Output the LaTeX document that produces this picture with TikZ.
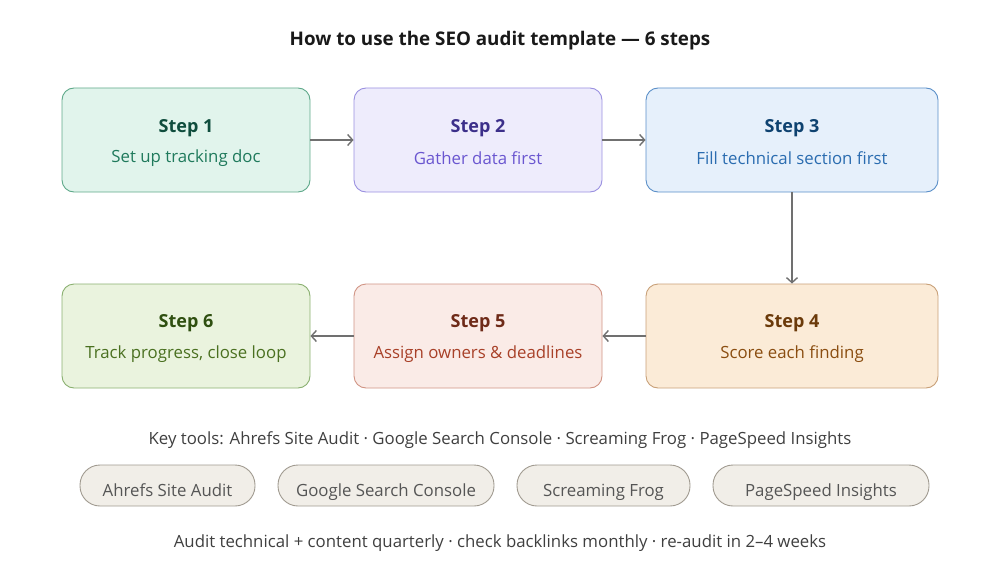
\documentclass[tikz,border=0pt]{standalone}
\usepackage{fontspec}
\setmainfont{Open Sans}
\usetikzlibrary{arrows.meta}
\definecolor{aFill}{HTML}{E1F4EC}\definecolor{aDraw}{HTML}{5FA98A}\definecolor{aTitle}{HTML}{0F4D3D}\definecolor{aSub}{HTML}{1F7A5C}
\definecolor{bFill}{HTML}{EEECFC}\definecolor{bDraw}{HTML}{9A90E0}\definecolor{bTitle}{HTML}{3C2F8A}\definecolor{bSub}{HTML}{6A56D0}
\definecolor{cFill}{HTML}{E6F0FB}\definecolor{cDraw}{HTML}{5A8FC8}\definecolor{cTitle}{HTML}{0E4270}\definecolor{cSub}{HTML}{2A6CB0}
\definecolor{dFill}{HTML}{FBEBD7}\definecolor{dDraw}{HTML}{C8A078}\definecolor{dTitle}{HTML}{6B3A0A}\definecolor{dSub}{HTML}{8A4D10}
\definecolor{eFill}{HTML}{FAEBE7}\definecolor{eDraw}{HTML}{D09484}\definecolor{eTitle}{HTML}{6E2A18}\definecolor{eSub}{HTML}{A84028}
\definecolor{fFill}{HTML}{EAF3DE}\definecolor{fDraw}{HTML}{8AB070}\definecolor{fTitle}{HTML}{2F4F10}\definecolor{fSub}{HTML}{4A7020}
\definecolor{arr}{HTML}{707070}
\definecolor{pillFill}{HTML}{F1EEE8}\definecolor{pillDraw}{HTML}{A09A90}\definecolor{pillText}{HTML}{555555}
\definecolor{noteText}{HTML}{3F3F3F}
\tikzset{
  stepbox/.style={draw, rounded corners=12pt, line width=0.9pt, minimum width=248pt, minimum height=104pt, inner sep=0pt},
  pill/.style={draw=pillDraw, fill=pillFill, rounded corners=20pt, line width=0.9pt, minimum height=41pt, inner sep=0pt},
  pilltext/.style={text=pillText, font=\fontsize{16.8}{20}\selectfont, anchor=base, inner sep=0pt},
  conn/.style={draw=arr, line width=1.7pt, -{Straight Barb[length=5pt,width=11pt,line width=1.4pt]}},
  ttl/.style={font=\fontsize{18}{21}\selectfont\bfseries},
  sub/.style={font=\fontsize{16.8}{20}\selectfont},
}
\begin{document}
\begin{tikzpicture}[x=1pt,y=-1pt]
\useasboundingbox (0,0) rectangle (1000,567);
\node[font=\fontsize{18.8}{22}\selectfont\bfseries, text=black!90] (title) at (500,41) {How to use the SEO audit template — 6 steps};
% boxes
\node[stepbox, draw=aDraw, fill=aFill] (s1) at (186,140) {};
\node[stepbox, draw=bDraw, fill=bFill] (s2) at (478,140) {};
\node[stepbox, draw=cDraw, fill=cFill, minimum width=292pt] (s3) at (792,140) {};
\node[stepbox, draw=dDraw, fill=dFill, minimum width=292pt] (s4) at (792,336) {};
\node[stepbox, draw=eDraw, fill=eFill] (s5) at (478,336) {};
\node[stepbox, draw=fDraw, fill=fFill] (s6) at (186,336) {};
% texts
\node[ttl, text=aTitle] (t1) at (186,128.5) {Step 1};
\node[sub, text=aSub] (u1) at (186,158.5) {Set up tracking doc};
\node[ttl, text=bTitle] (t2) at (478,128.5) {Step 2};
\node[sub, text=bSub] (u2) at (478,158.5) {Gather data first};
\node[ttl, text=cTitle] (t3) at (792,128.5) {Step 3};
\node[sub, text=cSub] (u3) at (792,158.5) {Fill technical section first};
\node[ttl, text=dTitle] (t4) at (792,323.5) {Step 4};
\node[sub, text=dSub] (u4) at (792,354) {Score each finding};
\node[ttl, text=eTitle] (t5) at (478,323.5) {Step 5};
\node[sub, text=eSub] (u5) at (478,354) {Assign owners \& deadlines};
\node[ttl, text=fTitle] (t6) at (186,323.5) {Step 6};
\node[sub, text=fSub] (u6) at (186,354) {Track progress, close loop};
% connectors
\draw[conn] (s1.east) -- (s2.west);
\draw[conn] (s2.east) -- (s3.west);
\draw[conn] (s3.south) -- (s4.north);
\draw[conn] (s4.west) -- (s5.east);
\draw[conn] (s5.west) -- (s6.east);
% bottom
\node[sub, text=noteText] (keys) at (500,440.5) {Key tools: Ahrefs Site Audit · Google Search Console · Screaming Frog · PageSpeed Insights};
\node[pill, minimum width=175pt] (p1) at (167.5,485.5) {};
\node[pill, minimum width=216pt] (p2) at (386,485.5) {};
\node[pill, minimum width=173pt] (p3) at (603.5,485.5) {};
\node[pill, minimum width=216pt] (p4) at (821,485.5) {};
\node[pilltext] (q1) at (167.5,496) {Ahrefs Site Audit};
\node[pilltext] (q2) at (386,496) {Google Search Console};
\node[pilltext] (q3) at (603.5,496) {Screaming Frog};
\node[pilltext] (q4) at (821,496) {PageSpeed Insights};
\node[sub, text=noteText] (note) at (500,543) {Audit technical + content quarterly · check backlinks monthly · re-audit in 2–4 weeks};
\end{tikzpicture}
\end{document}
